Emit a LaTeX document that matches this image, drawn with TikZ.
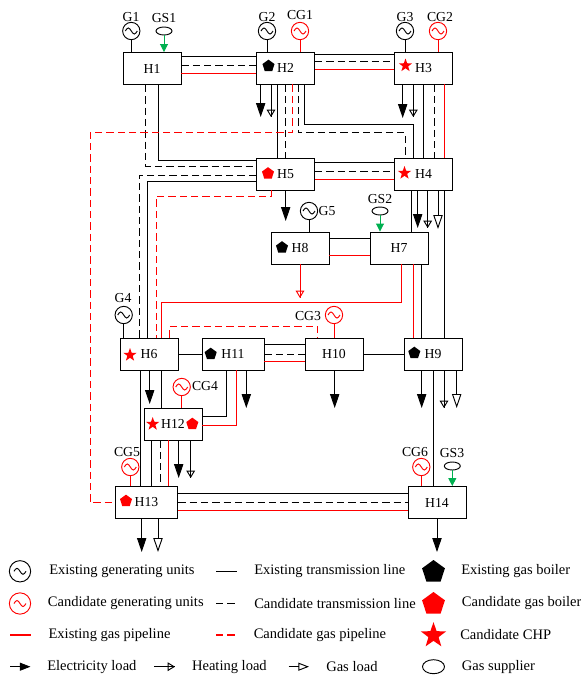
\documentclass[tikz,border=0pt]{standalone}
\usepackage{fontspec}
\setmainfont{Liberation Serif}
\usetikzlibrary{arrows.meta,shapes.geometric}
\definecolor{gasgreen}{HTML}{00B050}
\tikzset{
 bus/.style={draw,line width=.7pt,rectangle,inner sep=0pt,minimum width=43.5pt,minimum height=24pt},
 etline/.style={line width=.7pt},
 ctline/.style={line width=.7pt,dash pattern=on 5.5pt off 3pt},
 egline/.style={line width=.7pt,draw=red},
 cgline/.style={line width=.7pt,draw=red,dash pattern=on 5.5pt off 3pt},
 eload/.style={line width=.7pt,-{Triangle[length=10.5pt,width=7pt]}},
 gload/.style={line width=.7pt,-{Triangle[open,length=10.5pt,width=7pt]}},
 hload/.style={line width=.7pt,-{Triangle[open,length=5.5pt,width=6.5pt]},postaction={draw,-}},
 supply/.style={line width=.7pt,gasgreen,-{Triangle[length=6pt,width=6pt]}},
 gen/.style={circle,draw=#1,line width=.7pt,inner sep=0pt,minimum size=13pt,path picture={
   \draw[#1,line width=.7pt] (path picture bounding box.center) ++(-6,0) sin ++(3,-3) cos ++(3,3) sin ++(3,3) cos ++(3,-3);}},
 gasnode/.style={ellipse,draw,line width=.7pt,inner sep=0pt,minimum width=12pt,minimum height=6pt},
 boiler/.style={regular polygon,regular polygon sides=5,fill=#1,inner sep=0pt,minimum size=9.5pt},
 chp/.style={star,star points=5,star point ratio=2.5,fill=red,inner sep=0pt,minimum size=10.5pt},
 lab/.style={inner sep=0pt},
 keytext/.style={anchor=west,inner sep=0pt,font=\fontsize{10.9}{12}\selectfont}
}
\begin{document}
\begin{tikzpicture}[x=.75pt,y=-.75pt,font=\fontsize{10.3}{12}\selectfont]
 \useasboundingbox (0,0) rectangle (581,676);
 % buses
 \foreach \n/\x/\y in {H1/152/68.5,H2/285.5/68,H3/423.5/68,H4/423.5/174,H5/285.5/174,H7/399/248,H8/300/248,H6/149/354,H9/433/354,H10/334/354,H12/173/424,H14/437/502.5}
  {\node[bus] (\n) at (\x,\y) {\n};}
 \node[bus,minimum width=46.5pt] (H11) at (233,354) {H11};
 \node[bus,minimum width=47pt] (H13) at (146.5,502.5) {H13};
 % sources
 \foreach \n/\x/\y in {G1/131.3/31,G2/267/31,G3/405/31,G4/123.7/315,G5/309/211}
  {\node[gen=black] (\n) at (\x,\y) {};}
 \foreach \n/\x/\y in {CG1/300/31,CG2/438/31,CG3/334/315,CG4/181.7/387,CG5/130.3/467,CG6/421.3/467}
  {\node[gen=red] (\n) at (\x,\y) {};}
 \foreach \n/\x/\y in {GS1/164/31,GS2/380/211,GS3/452.3/466}
  {\node[gasnode] (\n) at (\x,\y) {};}
 \foreach \g/\b in {G1/H1,G2/H2,G3/H3,G4/H6,G5/H8}{\draw[etline] (\g) -- (\g |- \b.north);}
 \foreach \g/\b in {CG1/H2,CG2/H3,CG3/H10,CG4/H12,CG5/H13,CG6/H14}{\draw[egline] (\g) -- (\g |- \b.north);}
 \foreach \g/\b in {GS1/H1,GS2/H7,GS3/H14}{\draw[supply] (\g) -- (\g |- \b.north);}
 \foreach \t/\x/\y in {G1/131/17,G2/267/17,G3/405/17,CG1/300/15,CG2/440/17,GS1/164/18,GS2/380/199,G4/123/298,GS3/452/453,CG5/127/452,CG6/415/452,CG3/308/316}
  {\node[lab] (L\t) at (\x,\y) {\t};}
 \node[lab] (LG5) at (327,211.5) {G5};
 \node[lab] (LCG4) at (205,386.5) {CG4};
 % boilers and chp
 \foreach \n/\x/\y in {H2/268.5/66,H8/282/247.5,H11/210.7/354,H9/414.3/353}{\node[boiler=black] (B\n) at (\x,\y) {};}
 \foreach \n/\x/\y in {H5/268/173.5,H12/192.3/424,H13/126/501}{\node[boiler=red] (B\n) at (\x,\y) {};}
 \foreach \n/\x/\y in {H3/405.5/65.5,H4/404.5/173,H6/130/355,H12/152.7/424}{\node[chp] (C\n) at (\x,\y) {};}
 % parallel corridors
 \foreach \a/\b/\ya/\yb/\yc in {H1/H2/56.7/65/73,H2/H3/54.5/61/69,H5/H4/162.7/171/179,H11/H10/344.7/354/361.3,H13/H14/493.3/502.7/510}{
  \draw[etline] (\a.east |- 0,\ya) -- (\b.west |- 0,\ya);
  \draw[ctline] (\a.east |- 0,\yb) -- (\b.west |- 0,\yb);
  \draw[egline] (\a.east |- 0,\yc) -- (\b.west |- 0,\yc);}
 \draw[etline] (H8.east |- 0,238.7) -- (H7.west |- 0,238.7);
 \draw[egline] (H8.east |- 0,255.3) -- (H7.west |- 0,255.3);
 \draw[etline] (H6) -- (H11);\draw[etline] (H10) -- (H9);
 % straight verticals
 \foreach \a/\b/\x in {H2/H5/277.7,H3/H4/423.7,H4/H9/444,H7/H9/421.7,H9/H14/433,H6/H13/140.7,H12/H13/151.7,H6/H12/161,H4/H7/411.3}
  {\draw[etline] (\x,0 |- \a.south) -- (\x,0 |- \b.north);}
 \foreach \a/\b/\x in {H2/H5/285.3,H3/H4/434,H12/H13/160}{\draw[ctline] (\x,0 |- \a.south) -- (\x,0 |- \b.north);}
 \foreach \a/\b/\x in {H3/H4/444,H7/H9/413.3,H12/H13/168.3}{\draw[egline] (\x,0 |- \a.south) -- (\x,0 |- \b.north);}
 % bent routes
 \draw[etline] (158,0 |- H1.south) |- (H5.west |- 0,160.3);
 \draw[ctline] (145.7,0 |- H1.south) |- (H5.west |- 0,166.5);
 \draw[ctline] (H5.west |- 0,175) -| (139.5,0 |- H6.north);
 \draw[etline] (H5.west |- 0,181.7) -| (147.7,0 |- H6.north);
 \draw[cgline] (271.7,0 |- H5.south) -- (271.7,196.3) -| (156,0 |- H6.north);
 \draw[cgline] (292,0 |- H2.south) -- (292,132.7) -| (90,502.5) -- (H13.west |- 0,502.5);
 \draw[ctline] (298,0 |- H2.south) -- (298,132.7) -| (405,0 |- H4.north);
 \draw[etline] (304,0 |- H2.south) -- (304,124.7) -| (413.7,0 |- H4.north);
 \draw[egline] (401.3,0 |- H7.south) -- (401.3,302) -| (161.3,0 |- H6.north);
 \draw[cgline] (169.3,0 |- H6.north) -- (169.3,326.7) -| (317.7,0 |- H10.north);
 \draw[etline] (226.3,0 |- H11.south) -- (226.3,416) -- (H12.east |- 0,416);
 \draw[egline] (236.3,0 |- H11.south) -- (236.3,425) -- (H12.east |- 0,425);
 % loads
 \foreach \b/\x/\y in {H2/260.7/117,H3/402.7/118,H4/417.7/228,H5/285.7/221,H6/149.7/404,H11/246.3/408,H10/334.7/408,H9/421.7/408,H12/178.7/478,H13/141.7/552,H14/437/552}
  {\draw[eload] (\x,0 |- \b.south) -- (\x,\y);}
 \foreach \b/\x/\y in {H2/271/117,H3/413.3/117,H4/427.7/228,H9/444/408,H12/190.7/478}
  {\draw[hload] (\x,0 |- \b.south) -- (\x,\y);}
 \draw[hload,red] (300,0 |- H8.south) -- (300,298);
 \foreach \b/\x/\y in {H4/438/229,H9/456.7/408,H13/158/552}
  {\draw[gload] (\x,0 |- \b.south) -- (\x,\y);}
 % legend
 \node[gen=black,minimum size=16pt] (KG) at (20,571.3) {};
 \node[gen=red,minimum size=16pt] (KC) at (20,603.5) {};
 \draw[egline,line width=1.2pt] (10,635) -- (30.5,635);
 \draw[eload,arrows={-{Triangle[length=8pt,width=6pt]}}] (10,666.7) -- (30.5,666.7);
 \draw[hload] (154,666.7) -- (175,666.7);
 \draw[gload,arrows={-{Triangle[open,length=8pt,width=6pt]}}] (288.5,666.7) -- (309,666.7);
 \draw[etline] (216,571.3) -- (237,571.3);
 \draw[ctline] (216,603.5) -- (237,603.5);
 \draw[cgline,line width=1.2pt] (216,635) -- (237,635);
 \node[boiler=black,minimum size=18pt] (KB) at (433.5,572) {};
 \node[boiler=red,minimum size=18pt] (KR) at (433.5,604) {};
 \node[chp,minimum size=20pt] (KS) at (433.5,635.5) {};
 \node[gasnode,minimum width=16.5pt,minimum height=10.5pt] (KO) at (433.5,666.7) {};
 \node[keytext] (T1) at (49,571.3) {Existing generating units};
 \node[keytext] (T2) at (47.6,603.5) {Candidate generating units};
 \node[keytext] (T3) at (48.3,635) {Existing gas pipeline};
 \node[keytext] (T4) at (47,666.7) {Electricity load};
 \node[keytext] (T5) at (191.8,666.7) {Heating load};
 \node[keytext] (T6) at (326,666.7) {Gas load};
 \node[keytext] (T7) at (254,571.3) {Existing transmission line};
 \node[keytext] (T8) at (254,603.5) {Candidate transmission line};
 \node[keytext] (T9) at (253.5,635) {Candidate gas pipeline};
 \node[keytext] (T10) at (461,571.3) {Existing gas boiler};
 \node[keytext] (T11) at (461.7,603.5) {Candidate gas boiler};
 \node[keytext] (T12) at (460,635) {Candidate CHP};
 \node[keytext] (T13) at (461.7,666.7) {Gas supplier};
\end{tikzpicture}
\end{document}
